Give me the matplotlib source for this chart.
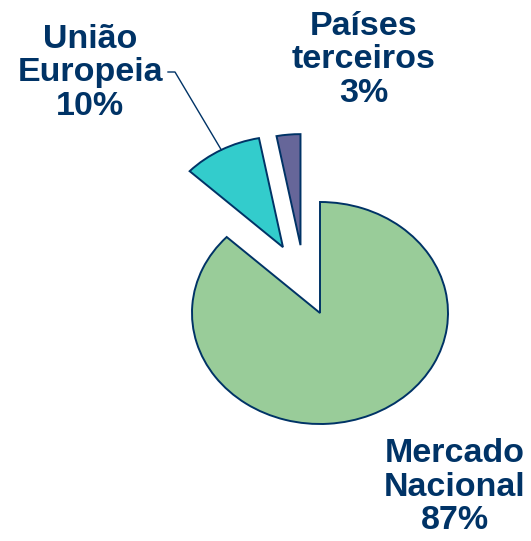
import numpy as np
import matplotlib.pyplot as plt

# Data
labels = ["Mercado\nNacional\n87%", "União\nEuropeia\n10%", "Países\nterceiros\n3%"]
values = [87, 10, 3]
colors = ["#99CC99", "#33CCCC", "#666699"]
explode = [0, 0.66, 0.63]
# direction in which each exploded slice is pulled out (degrees)
explode_dir = [None, 116, 104]

W, H = 531, 541
navy = "#003366"

fig = plt.figure(figsize=(W / 100, H / 100), dpi=100)
ax = fig.add_axes([0, 0, 1, 1])

wedges, _ = ax.pie(values, colors=colors, startangle=90,
                   counterclock=False, radius=1.0,
                   wedgeprops=dict(edgecolor=navy, linewidth=1.4))
for w, d, a in zip(wedges, explode, explode_dir):
    if a is not None:
        w.set_center((d * np.cos(np.deg2rad(a)), d * np.sin(np.deg2rad(a))))

# pie is slightly squashed: centre at pixel (320, 313), rx 128 px, ry 111 px
rx, ry = 128, 111
cx, cy = 320, 313
ax.set_xlim(-cx / rx, (W - cx) / rx)
ax.set_ylim(-(H - cy) / ry, cy / ry)
ax.set_aspect("auto")
ax.axis("off")

# labels, placed in figure pixels (top-down)
def fpx(x, y):
    return x / W, 1 - y / H

label_pos = [(455, 487), (90, 73), (364, 60)]
for text, (x, y) in zip(labels, label_pos):
    fig.text(*fpx(x, y), text, ha="center", va="center", color=navy,
             fontsize=24.5, fontweight="bold", family="Liberation Sans",
             linespacing=1.1)

# leader line for União Europeia, ending on the middle of its arc
w = wedges[1]
mid = np.deg2rad((w.theta1 + w.theta2) / 2)
end = (w.center[0] + w.r * np.cos(mid), w.center[1] + w.r * np.sin(mid))
ex, ey = fig.transFigure.inverted().transform(ax.transData.transform(end))
sx, sy = fpx(168, 72)
kx, ky = fpx(175, 72)
fig.add_artist(plt.Line2D([sx, kx, ex], [sy, ky, ey], color=navy, lw=1.0,
                          transform=fig.transFigure))

fig.savefig("out.png", dpi=100)
